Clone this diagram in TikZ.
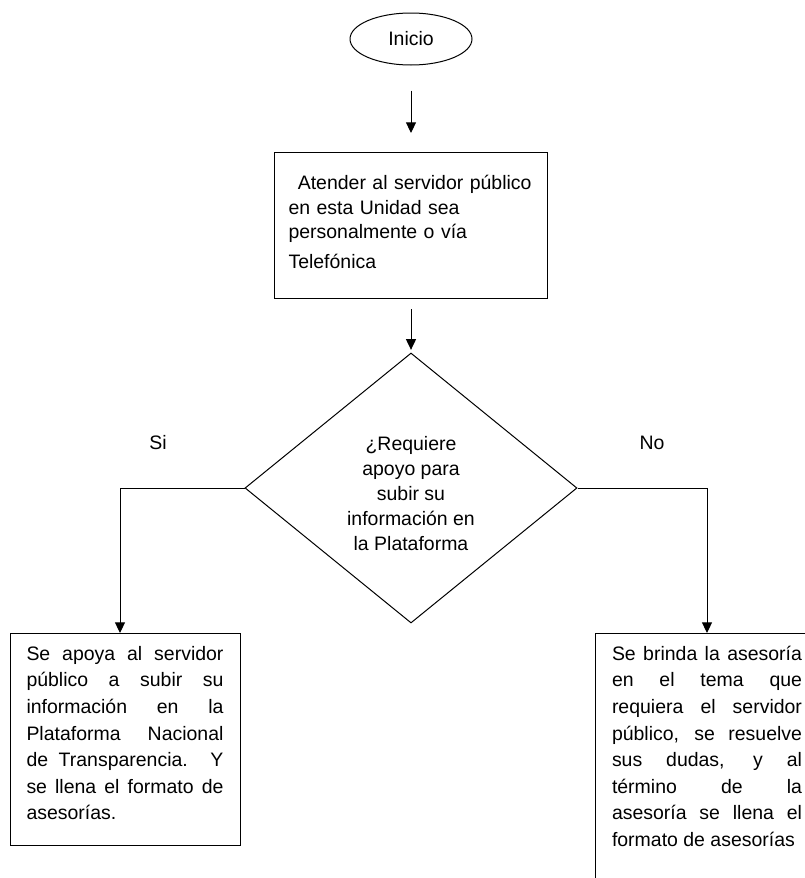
\documentclass[tikz,border=0pt]{standalone}
\usepackage{fontspec}
\setmainfont{Liberation Sans}
\usetikzlibrary{shapes.geometric, arrows.meta, positioning}

\begin{document}
\begin{tikzpicture}[
    x=0.75pt, y=-0.75pt,
    base/.style={draw=black, line width=0.75pt, font=\fontsize{14.6pt}{19.9pt}\selectfont},
    terminal/.style={base, ellipse, minimum width=91.5pt, minimum height=39pt, inner sep=0pt},
    process/.style={base, rectangle, anchor=north, text width=183.75pt, inner xsep=10.5pt, inner ysep=9pt, text height=18.75pt, text depth=72.75pt, align=left, font=\fontsize{14.6pt}{18.4pt}\selectfont},
    decision/.style={base, diamond, minimum width=249pt, minimum height=202.5pt, inner sep=0pt, align=center, font=\fontsize{14.6pt}{18.75pt}\selectfont},
    outcome/.style={base, rectangle, align=justify, anchor=north, inner ysep=9.2pt, text height=11pt},
    tag/.style={font=\fontsize{14.6pt}{19.9pt}\selectfont},
    flow/.style={line width=0.75pt, -{Triangle[length=8pt, width=7.5pt]}}
]
\useasboundingbox (0,0) rectangle (804,878);

\node[terminal] (start) at (411,39) {Inicio};
\node[process] (attend) at (411,152) {\hspace*{7pt}Atender al servidor público\\en esta Unidad sea\\personalmente o vía\\[4pt]Telefónica};
\node[decision] (decide) at (411,488) {\rule{0pt}{18.5pt}¿Requiere\\apoyo para\\subir su\\información en\\la Plataforma};

\node[tag] (yes) at (158,443) {Si};
\node[tag] (no) at (652,443) {No};

\node[outcome, text width=147.75pt, inner xsep=12.375pt, text depth=129.6pt] (apoyo) at (125,633) {Se apoya al servidor\linebreak público a subir su\linebreak información en la\linebreak Plataforma Nacional\linebreak de Transparencia. Y\linebreak se llena el formato de\linebreak asesorías.};
\node[outcome, text width=142.5pt, inner xsep=12.75pt, text depth=163.35pt] (brinda) at (707,633) {Se brinda la asesoría\linebreak en el tema que\linebreak requiera el servidor\linebreak público, se resuelve\linebreak sus dudas, y al\linebreak término de la\linebreak asesoría se llena el\linebreak formato de asesorías};

\draw[flow] ([yshift=-18.75pt]start.south) -- ([yshift=14.25pt]attend.north);
\draw[flow] ([yshift=-7.5pt]attend.south) -- ([yshift=2pt]decide.north);
\draw[flow] (decide.west) -| ([xshift=-3.75pt]apoyo.north);
\draw[flow] (decide.east) -| (brinda.north);

\end{tikzpicture}
\end{document}
